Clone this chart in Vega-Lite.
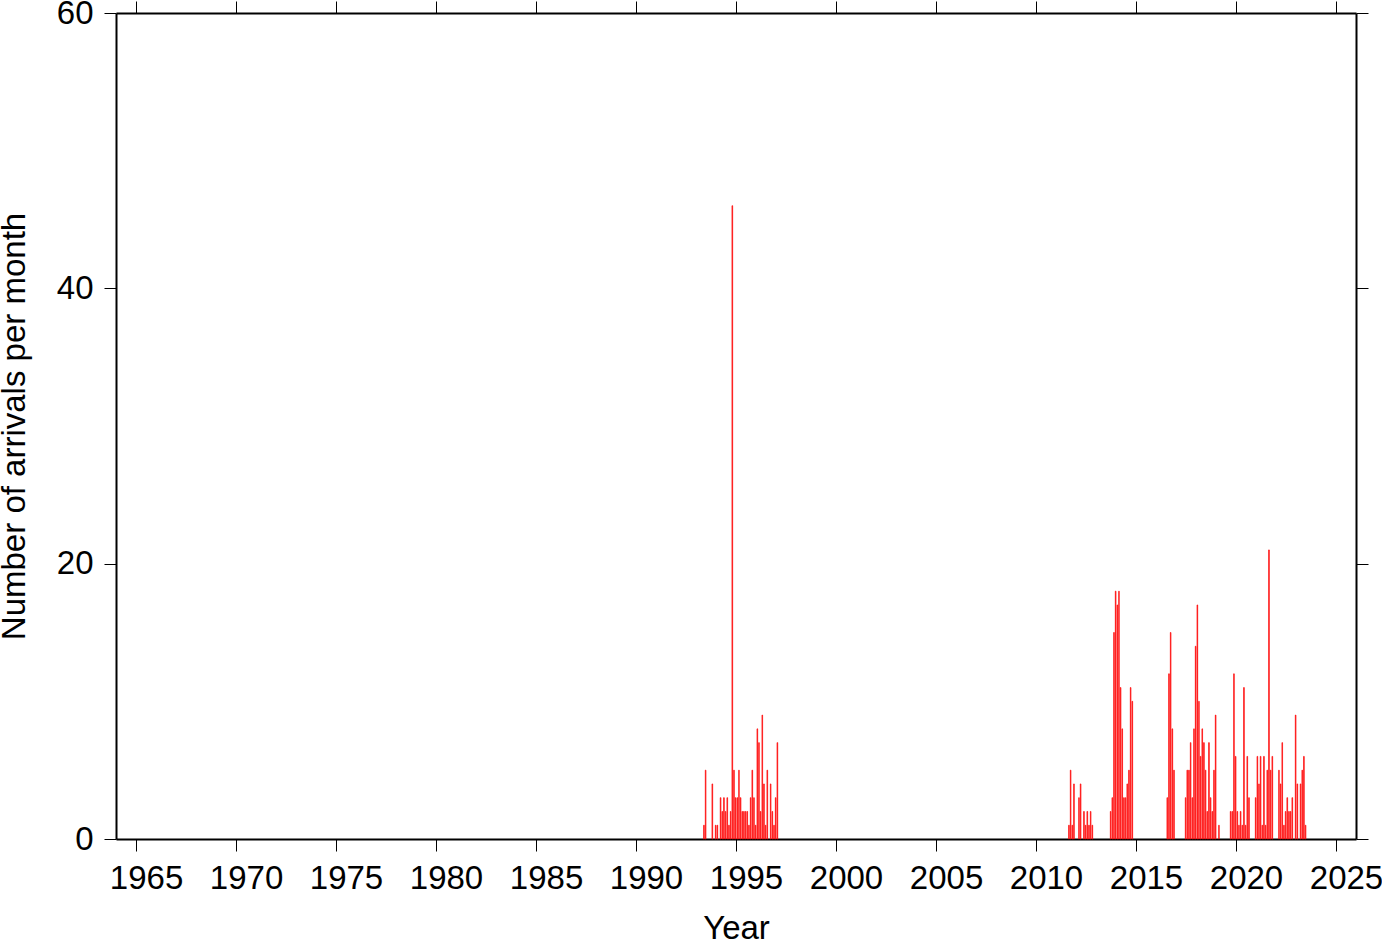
{
  "$schema": "https://vega.github.io/schema/vega-lite/v6.json",
  "width": 1240,
  "height": 826,
  "autosize": "none",
  "padding": {"left": 116, "top": 13, "right": 26, "bottom": 103},
  "background": "white",
  "config": {
    "view": {"stroke": null},
    "font": "Liberation Sans",
    "axis": {
      "grid": false,
      "domainColor": "black",
      "domainWidth": 2,
      "tickColor": "black",
      "tickWidth": 1,
      "tickSize": 12,
      "labelFont": "Liberation Sans",
      "labelFontSize": 33,
      "labelColor": "black",
      "labelPadding": 11,
      "titleFont": "Liberation Sans",
      "titleFontSize": 33,
      "titleFontWeight": "normal",
      "titleColor": "black"
    }
  },
  "data": {
    "values": [
      {"month": "1993-05-01", "count": 1}, {"month": "1993-06-01", "count": 5}, {"month": "1993-10-01", "count": 4},
      {"month": "1993-12-01", "count": 1}, {"month": "1994-01-01", "count": 1}, {"month": "1994-03-01", "count": 3},
      {"month": "1994-04-01", "count": 2}, {"month": "1994-05-01", "count": 3}, {"month": "1994-06-01", "count": 2},
      {"month": "1994-07-01", "count": 3}, {"month": "1994-08-01", "count": 1}, {"month": "1994-09-01", "count": 2},
      {"month": "1994-10-01", "count": 46}, {"month": "1994-11-01", "count": 5}, {"month": "1994-12-01", "count": 3},
      {"month": "1995-01-01", "count": 3}, {"month": "1995-02-01", "count": 5}, {"month": "1995-03-01", "count": 3},
      {"month": "1995-04-01", "count": 2}, {"month": "1995-05-01", "count": 2}, {"month": "1995-06-01", "count": 2},
      {"month": "1995-07-01", "count": 2}, {"month": "1995-08-01", "count": 1}, {"month": "1995-09-01", "count": 3},
      {"month": "1995-10-01", "count": 5}, {"month": "1995-11-01", "count": 3}, {"month": "1995-12-01", "count": 1},
      {"month": "1996-01-01", "count": 8}, {"month": "1996-02-01", "count": 7}, {"month": "1996-03-01", "count": 2},
      {"month": "1996-04-01", "count": 9}, {"month": "1996-05-01", "count": 4}, {"month": "1996-06-01", "count": 1},
      {"month": "1996-07-01", "count": 5}, {"month": "1996-09-01", "count": 4}, {"month": "1996-10-01", "count": 2},
      {"month": "1996-11-01", "count": 1}, {"month": "1996-12-01", "count": 3}, {"month": "1997-01-01", "count": 7},
      {"month": "2011-08-01", "count": 1}, {"month": "2011-09-01", "count": 5}, {"month": "2011-10-01", "count": 1},
      {"month": "2011-11-01", "count": 4}, {"month": "2012-02-01", "count": 3}, {"month": "2012-03-01", "count": 4},
      {"month": "2012-05-01", "count": 2}, {"month": "2012-06-01", "count": 1}, {"month": "2012-07-01", "count": 2},
      {"month": "2012-08-01", "count": 1}, {"month": "2012-09-01", "count": 2}, {"month": "2012-10-01", "count": 1},
      {"month": "2013-09-01", "count": 2}, {"month": "2013-10-01", "count": 3}, {"month": "2013-11-01", "count": 15},
      {"month": "2013-12-01", "count": 18}, {"month": "2014-01-01", "count": 17}, {"month": "2014-02-01", "count": 18},
      {"month": "2014-03-01", "count": 11}, {"month": "2014-04-01", "count": 8}, {"month": "2014-05-01", "count": 3},
      {"month": "2014-06-01", "count": 3}, {"month": "2014-07-01", "count": 4}, {"month": "2014-08-01", "count": 5},
      {"month": "2014-09-01", "count": 11}, {"month": "2014-10-01", "count": 10},
      {"month": "2016-07-01", "count": 3}, {"month": "2016-08-01", "count": 12}, {"month": "2016-09-01", "count": 15},
      {"month": "2016-10-01", "count": 8}, {"month": "2016-11-01", "count": 5},
      {"month": "2017-06-01", "count": 3}, {"month": "2017-07-01", "count": 5}, {"month": "2017-08-01", "count": 5},
      {"month": "2017-09-01", "count": 7}, {"month": "2017-10-01", "count": 3}, {"month": "2017-11-01", "count": 8},
      {"month": "2017-12-01", "count": 14}, {"month": "2018-01-01", "count": 17}, {"month": "2018-02-01", "count": 10},
      {"month": "2018-03-01", "count": 6}, {"month": "2018-04-01", "count": 8}, {"month": "2018-05-01", "count": 7},
      {"month": "2018-06-01", "count": 5}, {"month": "2018-07-01", "count": 2}, {"month": "2018-08-01", "count": 7},
      {"month": "2018-09-01", "count": 3}, {"month": "2018-10-01", "count": 2}, {"month": "2018-11-01", "count": 5},
      {"month": "2018-12-01", "count": 9}, {"month": "2019-02-01", "count": 1},
      {"month": "2019-09-01", "count": 2}, {"month": "2019-10-01", "count": 2}, {"month": "2019-11-01", "count": 12},
      {"month": "2019-12-01", "count": 6}, {"month": "2020-01-01", "count": 2}, {"month": "2020-02-01", "count": 1},
      {"month": "2020-03-01", "count": 2}, {"month": "2020-04-01", "count": 1}, {"month": "2020-05-01", "count": 11},
      {"month": "2020-06-01", "count": 1}, {"month": "2020-07-01", "count": 6}, {"month": "2020-08-01", "count": 3},
      {"month": "2020-12-01", "count": 3}, {"month": "2021-01-01", "count": 6}, {"month": "2021-02-01", "count": 4},
      {"month": "2021-03-01", "count": 6}, {"month": "2021-04-01", "count": 1}, {"month": "2021-05-01", "count": 6},
      {"month": "2021-06-01", "count": 1}, {"month": "2021-07-01", "count": 5}, {"month": "2021-08-01", "count": 21},
      {"month": "2021-09-01", "count": 5}, {"month": "2021-10-01", "count": 6},
      {"month": "2022-02-01", "count": 5}, {"month": "2022-03-01", "count": 4}, {"month": "2022-04-01", "count": 7},
      {"month": "2022-05-01", "count": 1}, {"month": "2022-06-01", "count": 2}, {"month": "2022-07-01", "count": 3},
      {"month": "2022-08-01", "count": 2}, {"month": "2022-09-01", "count": 2}, {"month": "2022-10-01", "count": 3},
      {"month": "2022-12-01", "count": 9}, {"month": "2023-01-01", "count": 4}, {"month": "2023-03-01", "count": 4},
      {"month": "2023-04-01", "count": 5}, {"month": "2023-05-01", "count": 6}, {"month": "2023-06-01", "count": 1}
    ]
  },
  "layer": [
    {
      "mark": {"type": "bar", "color": "#ff0000", "stroke": "#ff1010", "strokeWidth": 0.7},
      "encoding": {
        "x": {
          "field": "month", "type": "temporal", "timeUnit": "utcyearmonth",
          "scale": {"domain": [{"year": 1964, "month": 1, "date": 1, "utc": true}, {"year": 2026, "month": 1, "date": 1, "utc": true}]},
          "axis": {
            "orient": "bottom", "title": "Year", "titlePadding": 17,
            "values": [{"year": 1965, "utc": true}, {"year": 1970, "utc": true}, {"year": 1975, "utc": true}, {"year": 1980, "utc": true}, {"year": 1985, "utc": true}, {"year": 1990, "utc": true}, {"year": 1995, "utc": true}, {"year": 2000, "utc": true}, {"year": 2005, "utc": true}, {"year": 2010, "utc": true}, {"year": 2015, "utc": true}, {"year": 2020, "utc": true}, {"year": 2025, "utc": true}],
            "labelExpr": "utcFormat(datum.value, '%Y')",
            "labelOffset": 10,
            "labelFlush": false, "labelOverlap": false
          }
        },
        "y": {
          "field": "count", "type": "quantitative",
          "scale": {"domain": [0, 60], "nice": false},
          "axis": {"orient": "left", "title": "Number of arrivals per month", "titlePadding": 25, "values": [0, 20, 40, 60], "labelFlush": false}
        }
      }
    },
    {
      "mark": {"type": "point", "opacity": 0},
      "encoding": {
        "x": {
          "field": "month", "type": "temporal", "timeUnit": "utcyearmonth",
          "axis": {
            "orient": "top", "title": null, "labels": false,
            "values": [{"year": 1965, "utc": true}, {"year": 1970, "utc": true}, {"year": 1975, "utc": true}, {"year": 1980, "utc": true}, {"year": 1985, "utc": true}, {"year": 1990, "utc": true}, {"year": 1995, "utc": true}, {"year": 2000, "utc": true}, {"year": 2005, "utc": true}, {"year": 2010, "utc": true}, {"year": 2015, "utc": true}, {"year": 2020, "utc": true}, {"year": 2025, "utc": true}]
          }
        },
        "y": {
          "field": "count", "type": "quantitative",
          "axis": {"orient": "right", "title": null, "labels": false, "values": [0, 20, 40, 60]}
        }
      }
    }
  ],
  "resolve": {"axis": {"x": "independent", "y": "independent"}}
}
